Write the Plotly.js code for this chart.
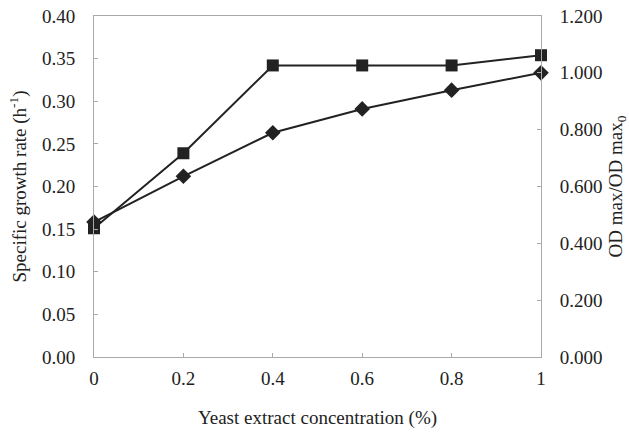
<!DOCTYPE html>
<html>
<head>
<meta charset="utf-8">
<script src="https://cdn.plot.ly/plotly-3.0.1.min.js"></script>
<style>html,body{margin:0;padding:0;background:#fff;}#chart{width:629px;height:435px;}</style>
</head>
<body>
<div id="chart"></div>
<script>
var concentration = [0, 0.2, 0.4, 0.6, 0.8, 1];
var growthRate = [0.151, 0.239, 0.342, 0.342, 0.342, 0.354];
var odRatio = [0.475, 0.636, 0.789, 0.873, 0.939, 1.000];

var font = {family: "Liberation Serif, Times New Roman, serif", size: 19, color: "#222"};

var traces = [
  {x: concentration, y: growthRate, type: "scatter", mode: "lines+markers", name: "growth",
   line: {color: "#222", width: 2}, marker: {symbol: "square", size: 12, color: "#222"},
   cliponaxis: false, yaxis: "y"},
  {x: concentration, y: odRatio, type: "scatter", mode: "lines+markers", name: "OD",
   line: {color: "#222", width: 2}, marker: {symbol: "diamond", size: 12, color: "#222"},
   cliponaxis: false, yaxis: "y2"}
];

var layout = {
  width: 629, height: 435,
  margin: {l: 94, r: 88, t: 16, b: 78},
  paper_bgcolor: "#fff", plot_bgcolor: "#fff",
  showlegend: false,
  font: font,
  xaxis: {
    range: [0, 1], dtick: 0.2, tick0: 0,
    showline: true, linecolor: "#aaa", linewidth: 1, mirror: true,
    ticks: "inside", ticklen: 4, tickcolor: "#aaa",
    showgrid: false, zeroline: false,
    ticklabelstandoff: 4,
    tickfont: font,
    title: {text: "Yeast extract concentration (%)", font: font, standoff: 22}
  },
  yaxis: {
    range: [0, 0.4], dtick: 0.05, tickformat: ".2f",
    showline: true, linecolor: "#aaa", linewidth: 1,
    ticks: "inside", ticklen: 4, tickcolor: "#aaa",
    showgrid: false, zeroline: false,
    ticklabelstandoff: 14,
    tickfont: font,
    title: {text: "Specific growth rate (h<sup>-1</sup>)", font: font, standoff: 10}
  },
  yaxis2: {
    range: [0, 1.2], dtick: 0.2, tickformat: ".3f",
    overlaying: "y", side: "right",
    showline: true, linecolor: "#aaa", linewidth: 1,
    ticks: "inside", ticklen: 4, tickcolor: "#aaa",
    showgrid: false, zeroline: false,
    ticklabelstandoff: 14,
    tickfont: font,
    title: {text: "OD max/OD max<sub>0</sub>", font: font, standoff: 8}
  }
};

Plotly.newPlot("chart", traces, layout, {displayModeBar: false, staticPlot: true});
</script>
</body>
</html>
